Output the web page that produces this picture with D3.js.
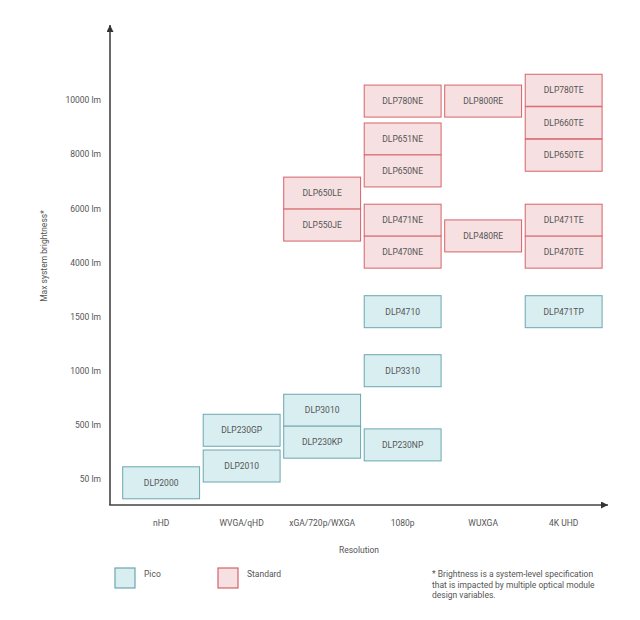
<!DOCTYPE html>
<html>
<head>
<meta charset="utf-8">
<script src="https://cdn.jsdelivr.net/npm/d3@7"></script>
<style>
  body { margin: 0; background: #fff; }
  text { font-family: Roboto, "Open Sans", sans-serif; fill: #555; }
</style>
</head>
<body>
<div id="content"></div>
<script>
const width = 640;
const height = 620;

// categories
const resolutions = ["nHD", "WVGA/qHD", "xGA/720p/WXGA", "1080p", "WUXGA", "4K UHD"];
const brightnessLabels = ["50 lm", "500 lm", "1000 lm", "1500 lm", "4000 lm", "6000 lm", "8000 lm", "10000 lm"];

// chips: name, resolution column, brightness position (in tick steps), family
const chipNames = ["DLP2000", "DLP2010", "DLP230GP", "DLP3010", "DLP230KP", "DLP230NP", "DLP3310", "DLP4710", "DLP471TP",
                   "DLP650LE", "DLP550JE", "DLP780NE", "DLP651NE", "DLP650NE", "DLP471NE", "DLP470NE",
                   "DLP800RE", "DLP480RE", "DLP780TE", "DLP660TE", "DLP650TE", "DLP471TE", "DLP470TE"];
const chipRes = ["nHD", "WVGA/qHD", "WVGA/qHD", "xGA/720p/WXGA", "xGA/720p/WXGA", "1080p", "1080p", "1080p", "4K UHD",
                 "xGA/720p/WXGA", "xGA/720p/WXGA", "1080p", "1080p", "1080p", "1080p", "1080p",
                 "WUXGA", "WUXGA", "4K UHD", "4K UHD", "4K UHD", "4K UHD", "4K UHD"];
const chipLevel = [-0.07, 0.24, 0.90, 1.27, 0.68, 0.63, 2.0, 3.09, 3.09,
                   5.28, 4.69, 6.98, 6.28, 5.69, 4.78, 4.19,
                   6.98, 4.49, 7.18, 6.58, 5.98, 4.78, 4.19];
const chipType = ["Pico", "Pico", "Pico", "Pico", "Pico", "Pico", "Pico", "Pico", "Pico",
                  "Standard", "Standard", "Standard", "Standard", "Standard", "Standard", "Standard",
                  "Standard", "Standard", "Standard", "Standard", "Standard", "Standard", "Standard"];

const families = ["Pico", "Standard"];
const fills = {Pico: "#d8eef1", Standard: "#f6e0e1"};
const strokes = {Pico: "#6ba7af", Standard: "#d6636a"};

const footnote = ["* Brightness is a system-level specification",
                  "that is impacted by multiple optical module",
                  "design variables."];

const boxH = 32;

var svg = d3.select("#content").append("svg")
    .attr("width", width)
    .attr("height", height);

var x = d3.scaleBand().domain(resolutions)
    .range([121.1, 603.7])
    .paddingInner(0.045)
    .paddingOuter(0.02);

var y = d3.scaleLinear().domain([0, 7]).range([479, 100]);

var chips = chipNames.map((n, i) => ({name: n, res: chipRes[i], level: chipLevel[i], type: chipType[i]}));

// boxes
var g = svg.append("g");
chips.forEach(d => {
    g.append("rect")
        .attr("x", x(d.res))
        .attr("y", y(d.level) - boxH / 2)
        .attr("width", x.bandwidth())
        .attr("height", boxH)
        .attr("fill", fills[d.type])
        .attr("stroke", strokes[d.type])
        .attr("stroke-width", 1);
});
chips.forEach(d => {
    g.append("text")
        .attr("x", x(d.res) + x.bandwidth() / 2)
        .attr("y", y(d.level))
        .attr("dy", "0.35em")
        .attr("text-anchor", "middle")
        .attr("font-size", "8.5px")
        .text(d.name);
});

// axes with arrows
svg.append("defs").append("marker")
    .attr("id", "arrow")
    .attr("viewBox", "0 0 10 10")
    .attr("refX", 10).attr("refY", 5)
    .attr("markerWidth", 10).attr("markerHeight", 7)
    .attr("markerUnits", "userSpaceOnUse")
    .attr("orient", "auto")
    .append("path").attr("d", "M0,0L10,5L0,10z").attr("fill", "#333");

svg.append("line")
    .attr("x1", 110).attr("y1", 505).attr("x2", 110).attr("y2", 25)
    .attr("stroke", "#444").attr("stroke-width", 1.6)
    .attr("marker-end", "url(#arrow)");
svg.append("line")
    .attr("x1", 109.2).attr("y1", 505).attr("x2", 608).attr("y2", 505)
    .attr("stroke", "#444").attr("stroke-width", 1.6)
    .attr("marker-end", "url(#arrow)");

// tick labels
var yAxis = svg.append("g")
    .attr("transform", "translate(101,0)")
    .call(d3.axisLeft(y).tickValues(d3.range(brightnessLabels.length))
        .tickFormat(i => brightnessLabels[i]).tickSize(0).tickPadding(0));
yAxis.select(".domain").remove();
yAxis.selectAll("text").attr("font-size", "8.5px").attr("fill", "#555").attr("font-family", "Roboto, sans-serif");

var xAxis = svg.append("g")
    .attr("transform", "translate(0,520)")
    .call(d3.axisBottom(x).tickSize(0).tickPadding(0));
xAxis.select(".domain").remove();
xAxis.selectAll("text").attr("font-size", "8.5px").attr("fill", "#555").attr("font-family", "Roboto, sans-serif");

// axis titles
svg.append("text").text("Resolution")
    .attr("x", 359).attr("y", 553)
    .attr("text-anchor", "middle")
    .attr("font-size", "8.5px");
svg.append("text").text("Max system brightness*")
    .attr("transform", "translate(47,256) rotate(-90)")
    .attr("text-anchor", "middle")
    .attr("font-size", "8.5px");

// legend
var legendX = [115, 218];
families.forEach((f, i) => {
    svg.append("rect")
        .attr("x", legendX[i]).attr("y", 568)
        .attr("width", 20).attr("height", 20)
        .attr("fill", fills[f]).attr("stroke", strokes[f]).attr("stroke-width", 1.2);
    svg.append("text").text(f)
        .attr("x", legendX[i] + 29).attr("y", 577)
        .attr("font-size", "8.5px");
});

// footnote
footnote.forEach((t, i) => {
    svg.append("text").text(t)
        .attr("x", 432).attr("y", 577 + i * 10.5)
        .attr("font-size", "8.5px");
});
</script>
</body>
</html>
